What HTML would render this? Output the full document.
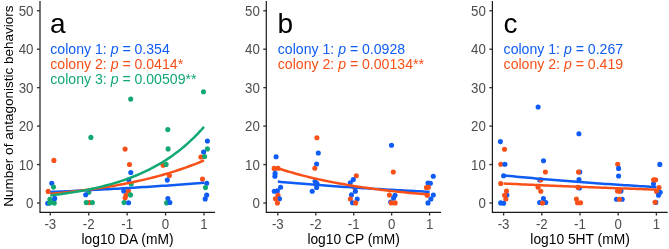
<!DOCTYPE html>
<html><head><meta charset="utf-8"><style>html,body{margin:0;padding:0;background:#fff;width:669px;height:249px;overflow:hidden}</style></head>
<body>
<svg width="669" height="249" viewBox="0 0 669 249" style="display:block;will-change:transform">
<rect width="669" height="249" fill="#fff"/>
<text font-family="Liberation Sans, sans-serif" font-size="13.5" fill="#000" text-anchor="middle" transform="translate(13.2,106.1) rotate(-90)">Number of antagonistic behaviors</text>
<circle cx="53.9" cy="160.4" r="2.55" fill="#f85018"/>
<circle cx="51.8" cy="183.2" r="2.55" fill="#0f5cf5"/>
<circle cx="53.5" cy="187.1" r="2.55" fill="#12a872"/>
<circle cx="48.2" cy="191.4" r="2.55" fill="#f85018"/>
<circle cx="47.7" cy="203.2" r="2.55" fill="#0f5cf5"/>
<circle cx="49.9" cy="199.2" r="2.55" fill="#12a872"/>
<circle cx="49.7" cy="203.1" r="2.55" fill="#12a872"/>
<circle cx="52.2" cy="201.5" r="2.55" fill="#12a872"/>
<circle cx="54.3" cy="203.1" r="2.55" fill="#12a872"/>
<circle cx="54.7" cy="198.4" r="2.55" fill="#0f5cf5"/>
<circle cx="90.9" cy="137.4" r="2.55" fill="#12a872"/>
<circle cx="88.8" cy="192.3" r="2.55" fill="#12a872"/>
<circle cx="85.7" cy="194.8" r="2.55" fill="#0f5cf5"/>
<circle cx="89.3" cy="202.6" r="2.55" fill="#f85018"/>
<circle cx="86.2" cy="202.6" r="2.55" fill="#12a872"/>
<circle cx="92.4" cy="202.6" r="2.55" fill="#12a872"/>
<circle cx="130.7" cy="99.1" r="2.55" fill="#12a872"/>
<circle cx="125.1" cy="149.1" r="2.55" fill="#f85018"/>
<circle cx="129.5" cy="164.5" r="2.55" fill="#f85018"/>
<circle cx="130.8" cy="172.5" r="2.55" fill="#0f5cf5"/>
<circle cx="128.8" cy="179.7" r="2.55" fill="#0f5cf5"/>
<circle cx="131.2" cy="184" r="2.55" fill="#12a872"/>
<circle cx="123.7" cy="191" r="2.55" fill="#0f5cf5"/>
<circle cx="128.4" cy="191" r="2.55" fill="#f85018"/>
<circle cx="126" cy="195.2" r="2.55" fill="#f85018"/>
<circle cx="125.1" cy="198" r="2.55" fill="#f85018"/>
<circle cx="130.5" cy="194.9" r="2.55" fill="#12a872"/>
<circle cx="124.1" cy="202.5" r="2.55" fill="#12a872"/>
<circle cx="128.6" cy="202.7" r="2.55" fill="#0f5cf5"/>
<circle cx="167.8" cy="129.6" r="2.55" fill="#12a872"/>
<circle cx="168.1" cy="148.9" r="2.55" fill="#12a872"/>
<circle cx="163.1" cy="165.2" r="2.55" fill="#f85018"/>
<circle cx="166.1" cy="164.4" r="2.55" fill="#12a872"/>
<circle cx="169.4" cy="175.5" r="2.55" fill="#f85018"/>
<circle cx="167.3" cy="180.1" r="2.55" fill="#0f5cf5"/>
<circle cx="167.9" cy="198.6" r="2.55" fill="#0f5cf5"/>
<circle cx="166.6" cy="202.9" r="2.55" fill="#12a872"/>
<circle cx="169.9" cy="202.5" r="2.55" fill="#0f5cf5"/>
<circle cx="203.5" cy="91.7" r="2.55" fill="#12a872"/>
<circle cx="207.4" cy="141" r="2.55" fill="#0f5cf5"/>
<circle cx="207.4" cy="148.9" r="2.55" fill="#12a872"/>
<circle cx="203.6" cy="152" r="2.55" fill="#0f5cf5"/>
<circle cx="200.9" cy="157.0" r="2.55" fill="#f85018"/>
<circle cx="204.6" cy="156.5" r="2.55" fill="#12a872"/>
<circle cx="202.5" cy="179.1" r="2.55" fill="#f85018"/>
<circle cx="206.7" cy="183.3" r="2.55" fill="#0f5cf5"/>
<circle cx="205.5" cy="187.6" r="2.55" fill="#12a872"/>
<circle cx="206.7" cy="195" r="2.55" fill="#0f5cf5"/>
<circle cx="205.2" cy="198.9" r="2.55" fill="#0f5cf5"/>
<polyline points="50.30,192.00 53.50,191.86 56.70,191.72 59.91,191.57 63.11,191.43 66.31,191.28 69.51,191.13 72.71,190.98 75.92,190.83 79.12,190.67 82.32,190.52 85.52,190.36 88.72,190.19 91.93,190.03 95.13,189.87 98.33,189.70 101.53,189.53 104.74,189.36 107.94,189.18 111.14,189.01 114.34,188.83 117.54,188.65 120.75,188.47 123.95,188.28 127.15,188.09 130.35,187.90 133.55,187.71 136.76,187.52 139.96,187.32 143.16,187.12 146.36,186.92 149.56,186.71 152.77,186.50 155.97,186.29 159.17,186.08 162.37,185.87 165.57,185.65 168.78,185.43 171.98,185.20 175.18,184.98 178.38,184.75 181.59,184.51 184.79,184.28 187.99,184.04 191.19,183.80 194.39,183.55 197.60,183.31 200.80,183.05 204.00,182.80" fill="none" stroke="#0f5cf5" stroke-width="2.5" stroke-linejoin="round"/>
<polyline points="50.30,193.90 53.50,193.60 56.70,193.30 59.91,192.98 63.11,192.65 66.31,192.31 69.51,191.96 72.71,191.60 75.92,191.23 79.12,190.85 82.32,190.45 85.52,190.04 88.72,189.61 91.93,189.18 95.13,188.73 98.33,188.26 101.53,187.78 104.74,187.28 107.94,186.77 111.14,186.24 114.34,185.69 117.54,185.12 120.75,184.54 123.95,183.93 127.15,183.31 130.35,182.67 133.55,182.00 136.76,181.32 139.96,180.61 143.16,179.88 146.36,179.12 149.56,178.34 152.77,177.53 155.97,176.70 159.17,175.84 162.37,174.96 165.57,174.04 168.78,173.09 171.98,172.11 175.18,171.11 178.38,170.06 181.59,168.99 184.79,167.88 187.99,166.73 191.19,165.54 194.39,164.32 197.60,163.05 200.80,161.75 204.00,160.40" fill="none" stroke="#f85018" stroke-width="2.5" stroke-linejoin="round"/>
<polyline points="50.30,195.40 53.50,195.03 56.70,194.63 59.91,194.22 63.11,193.79 66.31,193.34 69.51,192.86 72.71,192.37 75.92,191.84 79.12,191.29 82.32,190.72 85.52,190.11 88.72,189.48 91.93,188.82 95.13,188.12 98.33,187.39 101.53,186.62 104.74,185.81 107.94,184.97 111.14,184.08 114.34,183.15 117.54,182.18 120.75,181.15 123.95,180.08 127.15,178.95 130.35,177.77 133.55,176.53 136.76,175.23 139.96,173.86 143.16,172.43 146.36,170.92 149.56,169.35 152.77,167.69 155.97,165.96 159.17,164.14 162.37,162.22 165.57,160.22 168.78,158.12 171.98,155.91 175.18,153.59 178.38,151.17 181.59,148.62 184.79,145.94 187.99,143.14 191.19,140.19 194.39,137.11 197.60,133.87 200.80,130.47 204.00,126.90" fill="none" stroke="#12a872" stroke-width="2.5" stroke-linejoin="round"/>
<path d="M40.0,1.0 V212.3 H215.1" fill="none" stroke="#1a1a1a" stroke-width="1.2"/>
<line x1="37.0" y1="203.00" x2="40.0" y2="203.00" stroke="#333333" stroke-width="1.35"/>
<text font-family="Liberation Sans, sans-serif" font-size="14" fill="#4d4d4d" text-anchor="end" transform="translate(33.50,208.20) scale(0.95,1)">0</text>
<line x1="37.0" y1="164.55" x2="40.0" y2="164.55" stroke="#333333" stroke-width="1.35"/>
<text font-family="Liberation Sans, sans-serif" font-size="14" fill="#4d4d4d" text-anchor="end" transform="translate(33.50,169.75) scale(0.95,1)">10</text>
<line x1="37.0" y1="126.10" x2="40.0" y2="126.10" stroke="#333333" stroke-width="1.35"/>
<text font-family="Liberation Sans, sans-serif" font-size="14" fill="#4d4d4d" text-anchor="end" transform="translate(33.50,131.30) scale(0.95,1)">20</text>
<line x1="37.0" y1="87.65" x2="40.0" y2="87.65" stroke="#333333" stroke-width="1.35"/>
<text font-family="Liberation Sans, sans-serif" font-size="14" fill="#4d4d4d" text-anchor="end" transform="translate(33.50,92.85) scale(0.95,1)">30</text>
<line x1="37.0" y1="49.20" x2="40.0" y2="49.20" stroke="#333333" stroke-width="1.35"/>
<text font-family="Liberation Sans, sans-serif" font-size="14" fill="#4d4d4d" text-anchor="end" transform="translate(33.50,54.40) scale(0.95,1)">40</text>
<line x1="37.0" y1="10.75" x2="40.0" y2="10.75" stroke="#333333" stroke-width="1.35"/>
<text font-family="Liberation Sans, sans-serif" font-size="14" fill="#4d4d4d" text-anchor="end" transform="translate(33.50,15.95) scale(0.95,1)">50</text>
<line x1="50.30" y1="212.3" x2="50.30" y2="215.5" stroke="#333333" stroke-width="1.35"/>
<text font-family="Liberation Sans, sans-serif" font-size="14" fill="#4d4d4d" text-anchor="middle" transform="translate(50.30,228.7) scale(0.95,1)">-3</text>
<line x1="88.72" y1="212.3" x2="88.72" y2="215.5" stroke="#333333" stroke-width="1.35"/>
<text font-family="Liberation Sans, sans-serif" font-size="14" fill="#4d4d4d" text-anchor="middle" transform="translate(88.72,228.7) scale(0.95,1)">-2</text>
<line x1="127.15" y1="212.3" x2="127.15" y2="215.5" stroke="#333333" stroke-width="1.35"/>
<text font-family="Liberation Sans, sans-serif" font-size="14" fill="#4d4d4d" text-anchor="middle" transform="translate(127.15,228.7) scale(0.95,1)">-1</text>
<line x1="165.57" y1="212.3" x2="165.57" y2="215.5" stroke="#333333" stroke-width="1.35"/>
<text font-family="Liberation Sans, sans-serif" font-size="14" fill="#4d4d4d" text-anchor="middle" transform="translate(165.57,228.7) scale(0.95,1)">0</text>
<line x1="204.00" y1="212.3" x2="204.00" y2="215.5" stroke="#333333" stroke-width="1.35"/>
<text font-family="Liberation Sans, sans-serif" font-size="14" fill="#4d4d4d" text-anchor="middle" transform="translate(204.00,228.7) scale(0.95,1)">1</text>
<text font-family="Liberation Sans, sans-serif" font-size="13.8" fill="#000" text-anchor="middle" x="127.55" y="244.4">log10 DA (mM)</text>
<text font-family="Liberation Sans, sans-serif" font-size="28" fill="#000" x="50.10" y="32.6">a</text>
<text font-family="Liberation Sans, sans-serif" font-size="14.1" fill="#0f5cf5" x="50.30" y="53.60" xml:space="preserve">colony 1: <tspan font-style="italic">p</tspan> = 0.354</text>
<text font-family="Liberation Sans, sans-serif" font-size="14.1" fill="#f85018" x="50.30" y="69.00" xml:space="preserve">colony 2: <tspan font-style="italic">p</tspan> = 0.0414*</text>
<text font-family="Liberation Sans, sans-serif" font-size="14.1" fill="#12a872" x="50.30" y="84.40" xml:space="preserve">colony 3: <tspan font-style="italic">p</tspan> = 0.00509**</text>
<circle cx="276.1" cy="156.7" r="2.55" fill="#0f5cf5"/>
<circle cx="274.2" cy="168.4" r="2.55" fill="#f85018"/>
<circle cx="278" cy="168.2" r="2.55" fill="#f85018"/>
<circle cx="275.1" cy="173.4" r="2.55" fill="#0f5cf5"/>
<circle cx="274.9" cy="176.2" r="2.55" fill="#0f5cf5"/>
<circle cx="280.6" cy="187.2" r="2.55" fill="#0f5cf5"/>
<circle cx="274.3" cy="191.2" r="2.55" fill="#0f5cf5"/>
<circle cx="277.4" cy="190.9" r="2.55" fill="#0f5cf5"/>
<circle cx="278" cy="195.4" r="2.55" fill="#f85018"/>
<circle cx="279.5" cy="198.7" r="2.55" fill="#0f5cf5"/>
<circle cx="275.4" cy="198.7" r="2.55" fill="#f85018"/>
<circle cx="277.4" cy="202.9" r="2.55" fill="#f85018"/>
<circle cx="316.9" cy="137.7" r="2.55" fill="#f85018"/>
<circle cx="318.3" cy="153" r="2.55" fill="#0f5cf5"/>
<circle cx="316.6" cy="164" r="2.55" fill="#0f5cf5"/>
<circle cx="314.8" cy="168.2" r="2.55" fill="#f85018"/>
<circle cx="315.1" cy="181.2" r="2.55" fill="#0f5cf5"/>
<circle cx="317" cy="183.6" r="2.55" fill="#0f5cf5"/>
<circle cx="316.6" cy="187.4" r="2.55" fill="#0f5cf5"/>
<circle cx="312.2" cy="191.3" r="2.55" fill="#0f5cf5"/>
<circle cx="356.3" cy="175.7" r="2.55" fill="#f85018"/>
<circle cx="353.3" cy="179.6" r="2.55" fill="#0f5cf5"/>
<circle cx="350.3" cy="182.7" r="2.55" fill="#0f5cf5"/>
<circle cx="354.6" cy="187.6" r="2.55" fill="#f85018"/>
<circle cx="355.4" cy="191.2" r="2.55" fill="#0f5cf5"/>
<circle cx="351.5" cy="194.9" r="2.55" fill="#0f5cf5"/>
<circle cx="350.4" cy="199" r="2.55" fill="#f85018"/>
<circle cx="357.2" cy="199" r="2.55" fill="#0f5cf5"/>
<circle cx="352.5" cy="202.7" r="2.55" fill="#0f5cf5"/>
<circle cx="355.7" cy="202.9" r="2.55" fill="#f85018"/>
<circle cx="391.5" cy="145.3" r="2.55" fill="#0f5cf5"/>
<circle cx="393.3" cy="172" r="2.55" fill="#f85018"/>
<circle cx="389.4" cy="195" r="2.55" fill="#f85018"/>
<circle cx="395" cy="195.2" r="2.55" fill="#0f5cf5"/>
<circle cx="393.6" cy="198.1" r="2.55" fill="#0f5cf5"/>
<circle cx="390.7" cy="202" r="2.55" fill="#0f5cf5"/>
<circle cx="391.3" cy="202.9" r="2.55" fill="#f85018"/>
<circle cx="395.2" cy="202.9" r="2.55" fill="#f85018"/>
<circle cx="433.3" cy="176.2" r="2.55" fill="#0f5cf5"/>
<circle cx="428" cy="183" r="2.55" fill="#0f5cf5"/>
<circle cx="430.4" cy="183.3" r="2.55" fill="#0f5cf5"/>
<circle cx="426.4" cy="187.5" r="2.55" fill="#f85018"/>
<circle cx="428.4" cy="187.3" r="2.55" fill="#f85018"/>
<circle cx="427.2" cy="195.3" r="2.55" fill="#f85018"/>
<circle cx="433.3" cy="195" r="2.55" fill="#0f5cf5"/>
<circle cx="430.9" cy="199" r="2.55" fill="#0f5cf5"/>
<circle cx="428" cy="202.9" r="2.55" fill="#0f5cf5"/>
<polyline points="277.80,181.60 280.96,181.89 284.12,182.17 287.29,182.45 290.45,182.72 293.61,183.00 296.78,183.26 299.94,183.53 303.10,183.79 306.26,184.05 309.43,184.30 312.59,184.55 315.75,184.80 318.91,185.04 322.08,185.28 325.24,185.52 328.40,185.75 331.56,185.99 334.73,186.21 337.89,186.44 341.05,186.66 344.21,186.88 347.38,187.10 350.54,187.31 353.70,187.52 356.86,187.73 360.02,187.93 363.19,188.13 366.35,188.33 369.51,188.53 372.68,188.72 375.84,188.91 379.00,189.10 382.16,189.29 385.33,189.47 388.49,189.65 391.65,189.83 394.81,190.01 397.98,190.18 401.14,190.35 404.30,190.52 407.46,190.69 410.62,190.86 413.79,191.02 416.95,191.18 420.11,191.34 423.28,191.49 426.44,191.65 429.60,191.80" fill="none" stroke="#0f5cf5" stroke-width="2.5" stroke-linejoin="round"/>
<polyline points="277.80,168.30 280.96,169.31 284.12,170.29 287.29,171.24 290.45,172.17 293.61,173.07 296.78,173.94 299.94,174.78 303.10,175.61 306.26,176.40 309.43,177.18 312.59,177.93 315.75,178.66 318.91,179.37 322.08,180.06 325.24,180.73 328.40,181.37 331.56,182.00 334.73,182.62 337.89,183.21 341.05,183.78 344.21,184.34 347.38,184.89 350.54,185.42 353.70,185.93 356.86,186.42 360.02,186.91 363.19,187.38 366.35,187.83 369.51,188.27 372.68,188.70 375.84,189.12 379.00,189.52 382.16,189.91 385.33,190.30 388.49,190.67 391.65,191.02 394.81,191.37 397.98,191.71 401.14,192.04 404.30,192.36 407.46,192.67 410.62,192.97 413.79,193.26 416.95,193.55 420.11,193.82 423.28,194.09 426.44,194.35 429.60,194.60" fill="none" stroke="#f85018" stroke-width="2.5" stroke-linejoin="round"/>
<path d="M266.3,1.0 V212.3 H441.0" fill="none" stroke="#1a1a1a" stroke-width="1.2"/>
<line x1="263.3" y1="203.00" x2="266.3" y2="203.00" stroke="#333333" stroke-width="1.35"/>
<text font-family="Liberation Sans, sans-serif" font-size="14" fill="#4d4d4d" text-anchor="end" transform="translate(259.80,208.20) scale(0.95,1)">0</text>
<line x1="263.3" y1="164.55" x2="266.3" y2="164.55" stroke="#333333" stroke-width="1.35"/>
<text font-family="Liberation Sans, sans-serif" font-size="14" fill="#4d4d4d" text-anchor="end" transform="translate(259.80,169.75) scale(0.95,1)">10</text>
<line x1="263.3" y1="126.10" x2="266.3" y2="126.10" stroke="#333333" stroke-width="1.35"/>
<text font-family="Liberation Sans, sans-serif" font-size="14" fill="#4d4d4d" text-anchor="end" transform="translate(259.80,131.30) scale(0.95,1)">20</text>
<line x1="263.3" y1="87.65" x2="266.3" y2="87.65" stroke="#333333" stroke-width="1.35"/>
<text font-family="Liberation Sans, sans-serif" font-size="14" fill="#4d4d4d" text-anchor="end" transform="translate(259.80,92.85) scale(0.95,1)">30</text>
<line x1="263.3" y1="49.20" x2="266.3" y2="49.20" stroke="#333333" stroke-width="1.35"/>
<text font-family="Liberation Sans, sans-serif" font-size="14" fill="#4d4d4d" text-anchor="end" transform="translate(259.80,54.40) scale(0.95,1)">40</text>
<line x1="263.3" y1="10.75" x2="266.3" y2="10.75" stroke="#333333" stroke-width="1.35"/>
<text font-family="Liberation Sans, sans-serif" font-size="14" fill="#4d4d4d" text-anchor="end" transform="translate(259.80,15.95) scale(0.95,1)">50</text>
<line x1="277.80" y1="212.3" x2="277.80" y2="215.5" stroke="#333333" stroke-width="1.35"/>
<text font-family="Liberation Sans, sans-serif" font-size="14" fill="#4d4d4d" text-anchor="middle" transform="translate(277.80,228.7) scale(0.95,1)">-3</text>
<line x1="315.75" y1="212.3" x2="315.75" y2="215.5" stroke="#333333" stroke-width="1.35"/>
<text font-family="Liberation Sans, sans-serif" font-size="14" fill="#4d4d4d" text-anchor="middle" transform="translate(315.75,228.7) scale(0.95,1)">-2</text>
<line x1="353.70" y1="212.3" x2="353.70" y2="215.5" stroke="#333333" stroke-width="1.35"/>
<text font-family="Liberation Sans, sans-serif" font-size="14" fill="#4d4d4d" text-anchor="middle" transform="translate(353.70,228.7) scale(0.95,1)">-1</text>
<line x1="391.65" y1="212.3" x2="391.65" y2="215.5" stroke="#333333" stroke-width="1.35"/>
<text font-family="Liberation Sans, sans-serif" font-size="14" fill="#4d4d4d" text-anchor="middle" transform="translate(391.65,228.7) scale(0.95,1)">0</text>
<line x1="429.60" y1="212.3" x2="429.60" y2="215.5" stroke="#333333" stroke-width="1.35"/>
<text font-family="Liberation Sans, sans-serif" font-size="14" fill="#4d4d4d" text-anchor="middle" transform="translate(429.60,228.7) scale(0.95,1)">1</text>
<text font-family="Liberation Sans, sans-serif" font-size="13.8" fill="#000" text-anchor="middle" x="353.65" y="244.4">log10 CP (mM)</text>
<text font-family="Liberation Sans, sans-serif" font-size="28" fill="#000" x="277.60" y="32.6">b</text>
<text font-family="Liberation Sans, sans-serif" font-size="14.1" fill="#0f5cf5" x="277.80" y="53.60" xml:space="preserve">colony 1: <tspan font-style="italic">p</tspan> = 0.0928</text>
<text font-family="Liberation Sans, sans-serif" font-size="14.1" fill="#f85018" x="277.80" y="69.00" xml:space="preserve">colony 2: <tspan font-style="italic">p</tspan> = 0.00134**</text>
<circle cx="500.4" cy="141.6" r="2.55" fill="#0f5cf5"/>
<circle cx="504.5" cy="149.3" r="2.55" fill="#f85018"/>
<circle cx="500.8" cy="164.2" r="2.55" fill="#f85018"/>
<circle cx="504.9" cy="164.2" r="2.55" fill="#0f5cf5"/>
<circle cx="503.6" cy="175.8" r="2.55" fill="#0f5cf5"/>
<circle cx="500.7" cy="183.5" r="2.55" fill="#f85018"/>
<circle cx="506.9" cy="195.0" r="2.55" fill="#0f5cf5"/>
<circle cx="506.5" cy="191.1" r="2.55" fill="#f85018"/>
<circle cx="504.6" cy="195.2" r="2.55" fill="#f85018"/>
<circle cx="505.8" cy="199" r="2.55" fill="#f85018"/>
<circle cx="500.7" cy="202.9" r="2.55" fill="#0f5cf5"/>
<circle cx="503.6" cy="203.3" r="2.55" fill="#0f5cf5"/>
<circle cx="538.1" cy="107" r="2.55" fill="#0f5cf5"/>
<circle cx="543.5" cy="160.7" r="2.55" fill="#0f5cf5"/>
<circle cx="545.4" cy="172" r="2.55" fill="#f85018"/>
<circle cx="539.8" cy="180" r="2.55" fill="#0f5cf5"/>
<circle cx="541" cy="179.8" r="2.55" fill="#f85018"/>
<circle cx="538.1" cy="187.2" r="2.55" fill="#f85018"/>
<circle cx="540.8" cy="191.2" r="2.55" fill="#f85018"/>
<circle cx="543.4" cy="198.6" r="2.55" fill="#0f5cf5"/>
<circle cx="539.6" cy="202.5" r="2.55" fill="#0f5cf5"/>
<circle cx="545.8" cy="202.5" r="2.55" fill="#0f5cf5"/>
<circle cx="542.5" cy="203" r="2.55" fill="#f85018"/>
<circle cx="578.9" cy="133.7" r="2.55" fill="#0f5cf5"/>
<circle cx="579.8" cy="172" r="2.55" fill="#0f5cf5"/>
<circle cx="578.5" cy="172" r="2.55" fill="#f85018"/>
<circle cx="579" cy="179.5" r="2.55" fill="#0f5cf5"/>
<circle cx="579.5" cy="188" r="2.55" fill="#0f5cf5"/>
<circle cx="578" cy="187.4" r="2.55" fill="#f85018"/>
<circle cx="576.4" cy="199" r="2.55" fill="#f85018"/>
<circle cx="577.5" cy="202.7" r="2.55" fill="#f85018"/>
<circle cx="580.6" cy="202.7" r="2.55" fill="#f85018"/>
<circle cx="617.7" cy="164.3" r="2.55" fill="#f85018"/>
<circle cx="618.6" cy="168.4" r="2.55" fill="#0f5cf5"/>
<circle cx="618.6" cy="176" r="2.55" fill="#0f5cf5"/>
<circle cx="621" cy="191" r="2.55" fill="#0f5cf5"/>
<circle cx="617.5" cy="191" r="2.55" fill="#f85018"/>
<circle cx="619.5" cy="191.2" r="2.55" fill="#f85018"/>
<circle cx="616.5" cy="199.3" r="2.55" fill="#0f5cf5"/>
<circle cx="622.2" cy="199.3" r="2.55" fill="#0f5cf5"/>
<circle cx="619.4" cy="199.3" r="2.55" fill="#f85018"/>
<circle cx="659.8" cy="164.4" r="2.55" fill="#0f5cf5"/>
<circle cx="653.5" cy="183.7" r="2.55" fill="#0f5cf5"/>
<circle cx="653.6" cy="179.8" r="2.55" fill="#f85018"/>
<circle cx="655.6" cy="179.8" r="2.55" fill="#f85018"/>
<circle cx="660.2" cy="192.3" r="2.55" fill="#0f5cf5"/>
<circle cx="656.6" cy="191.4" r="2.55" fill="#f85018"/>
<circle cx="659" cy="187.5" r="2.55" fill="#f85018"/>
<circle cx="658.5" cy="195.3" r="2.55" fill="#0f5cf5"/>
<circle cx="655.8" cy="202.4" r="2.55" fill="#0f5cf5"/>
<circle cx="655.1" cy="202.2" r="2.55" fill="#f85018"/>
<polyline points="503.60,175.40 506.78,175.72 509.97,176.03 513.15,176.34 516.33,176.64 519.52,176.94 522.70,177.24 525.88,177.53 529.07,177.82 532.25,178.11 535.43,178.40 538.62,178.68 541.80,178.95 544.98,179.23 548.17,179.50 551.35,179.77 554.53,180.03 557.72,180.30 560.90,180.56 564.08,180.81 567.27,181.07 570.45,181.32 573.63,181.56 576.82,181.81 580.00,182.05 583.18,182.29 586.37,182.53 589.55,182.76 592.73,182.99 595.92,183.22 599.10,183.45 602.28,183.67 605.47,183.89 608.65,184.11 611.83,184.33 615.02,184.54 618.20,184.75 621.38,184.96 624.57,185.16 627.75,185.37 630.93,185.57 634.12,185.77 637.30,185.97 640.48,186.16 643.67,186.35 646.85,186.54 650.03,186.73 653.22,186.92 656.40,187.10" fill="none" stroke="#0f5cf5" stroke-width="2.5" stroke-linejoin="round"/>
<polyline points="503.60,183.50 506.78,183.65 509.97,183.80 513.15,183.95 516.33,184.10 519.52,184.25 522.70,184.39 525.88,184.54 529.07,184.68 532.25,184.82 535.43,184.97 538.62,185.11 541.80,185.25 544.98,185.38 548.17,185.52 551.35,185.66 554.53,185.79 557.72,185.93 560.90,186.06 564.08,186.19 567.27,186.32 570.45,186.45 573.63,186.58 576.82,186.71 580.00,186.84 583.18,186.96 586.37,187.09 589.55,187.21 592.73,187.33 595.92,187.45 599.10,187.58 602.28,187.70 605.47,187.82 608.65,187.93 611.83,188.05 615.02,188.17 618.20,188.28 621.38,188.40 624.57,188.51 627.75,188.62 630.93,188.74 634.12,188.85 637.30,188.96 640.48,189.07 643.67,189.17 646.85,189.28 650.03,189.39 653.22,189.49 656.40,189.60" fill="none" stroke="#f85018" stroke-width="2.5" stroke-linejoin="round"/>
<path d="M492.4,1.0 V212.3 H667.7" fill="none" stroke="#1a1a1a" stroke-width="1.2"/>
<line x1="489.4" y1="203.00" x2="492.4" y2="203.00" stroke="#333333" stroke-width="1.35"/>
<text font-family="Liberation Sans, sans-serif" font-size="14" fill="#4d4d4d" text-anchor="end" transform="translate(485.90,208.20) scale(0.95,1)">0</text>
<line x1="489.4" y1="164.55" x2="492.4" y2="164.55" stroke="#333333" stroke-width="1.35"/>
<text font-family="Liberation Sans, sans-serif" font-size="14" fill="#4d4d4d" text-anchor="end" transform="translate(485.90,169.75) scale(0.95,1)">10</text>
<line x1="489.4" y1="126.10" x2="492.4" y2="126.10" stroke="#333333" stroke-width="1.35"/>
<text font-family="Liberation Sans, sans-serif" font-size="14" fill="#4d4d4d" text-anchor="end" transform="translate(485.90,131.30) scale(0.95,1)">20</text>
<line x1="489.4" y1="87.65" x2="492.4" y2="87.65" stroke="#333333" stroke-width="1.35"/>
<text font-family="Liberation Sans, sans-serif" font-size="14" fill="#4d4d4d" text-anchor="end" transform="translate(485.90,92.85) scale(0.95,1)">30</text>
<line x1="489.4" y1="49.20" x2="492.4" y2="49.20" stroke="#333333" stroke-width="1.35"/>
<text font-family="Liberation Sans, sans-serif" font-size="14" fill="#4d4d4d" text-anchor="end" transform="translate(485.90,54.40) scale(0.95,1)">40</text>
<line x1="489.4" y1="10.75" x2="492.4" y2="10.75" stroke="#333333" stroke-width="1.35"/>
<text font-family="Liberation Sans, sans-serif" font-size="14" fill="#4d4d4d" text-anchor="end" transform="translate(485.90,15.95) scale(0.95,1)">50</text>
<line x1="503.60" y1="212.3" x2="503.60" y2="215.5" stroke="#333333" stroke-width="1.35"/>
<text font-family="Liberation Sans, sans-serif" font-size="14" fill="#4d4d4d" text-anchor="middle" transform="translate(503.60,228.7) scale(0.95,1)">-3</text>
<line x1="541.80" y1="212.3" x2="541.80" y2="215.5" stroke="#333333" stroke-width="1.35"/>
<text font-family="Liberation Sans, sans-serif" font-size="14" fill="#4d4d4d" text-anchor="middle" transform="translate(541.80,228.7) scale(0.95,1)">-2</text>
<line x1="580.00" y1="212.3" x2="580.00" y2="215.5" stroke="#333333" stroke-width="1.35"/>
<text font-family="Liberation Sans, sans-serif" font-size="14" fill="#4d4d4d" text-anchor="middle" transform="translate(580.00,228.7) scale(0.95,1)">-1</text>
<line x1="618.20" y1="212.3" x2="618.20" y2="215.5" stroke="#333333" stroke-width="1.35"/>
<text font-family="Liberation Sans, sans-serif" font-size="14" fill="#4d4d4d" text-anchor="middle" transform="translate(618.20,228.7) scale(0.95,1)">0</text>
<line x1="656.40" y1="212.3" x2="656.40" y2="215.5" stroke="#333333" stroke-width="1.35"/>
<text font-family="Liberation Sans, sans-serif" font-size="14" fill="#4d4d4d" text-anchor="middle" transform="translate(656.40,228.7) scale(0.95,1)">1</text>
<text font-family="Liberation Sans, sans-serif" font-size="13.8" fill="#000" text-anchor="middle" x="580.05" y="244.4">log10 5HT (mM)</text>
<text font-family="Liberation Sans, sans-serif" font-size="28" fill="#000" x="503.40" y="32.6">c</text>
<text font-family="Liberation Sans, sans-serif" font-size="14.1" fill="#0f5cf5" x="503.60" y="53.60" xml:space="preserve">colony 1: <tspan font-style="italic">p</tspan> = 0.267</text>
<text font-family="Liberation Sans, sans-serif" font-size="14.1" fill="#f85018" x="503.60" y="69.00" xml:space="preserve">colony 2: <tspan font-style="italic">p</tspan> = 0.419</text>
</svg>
</body></html>
